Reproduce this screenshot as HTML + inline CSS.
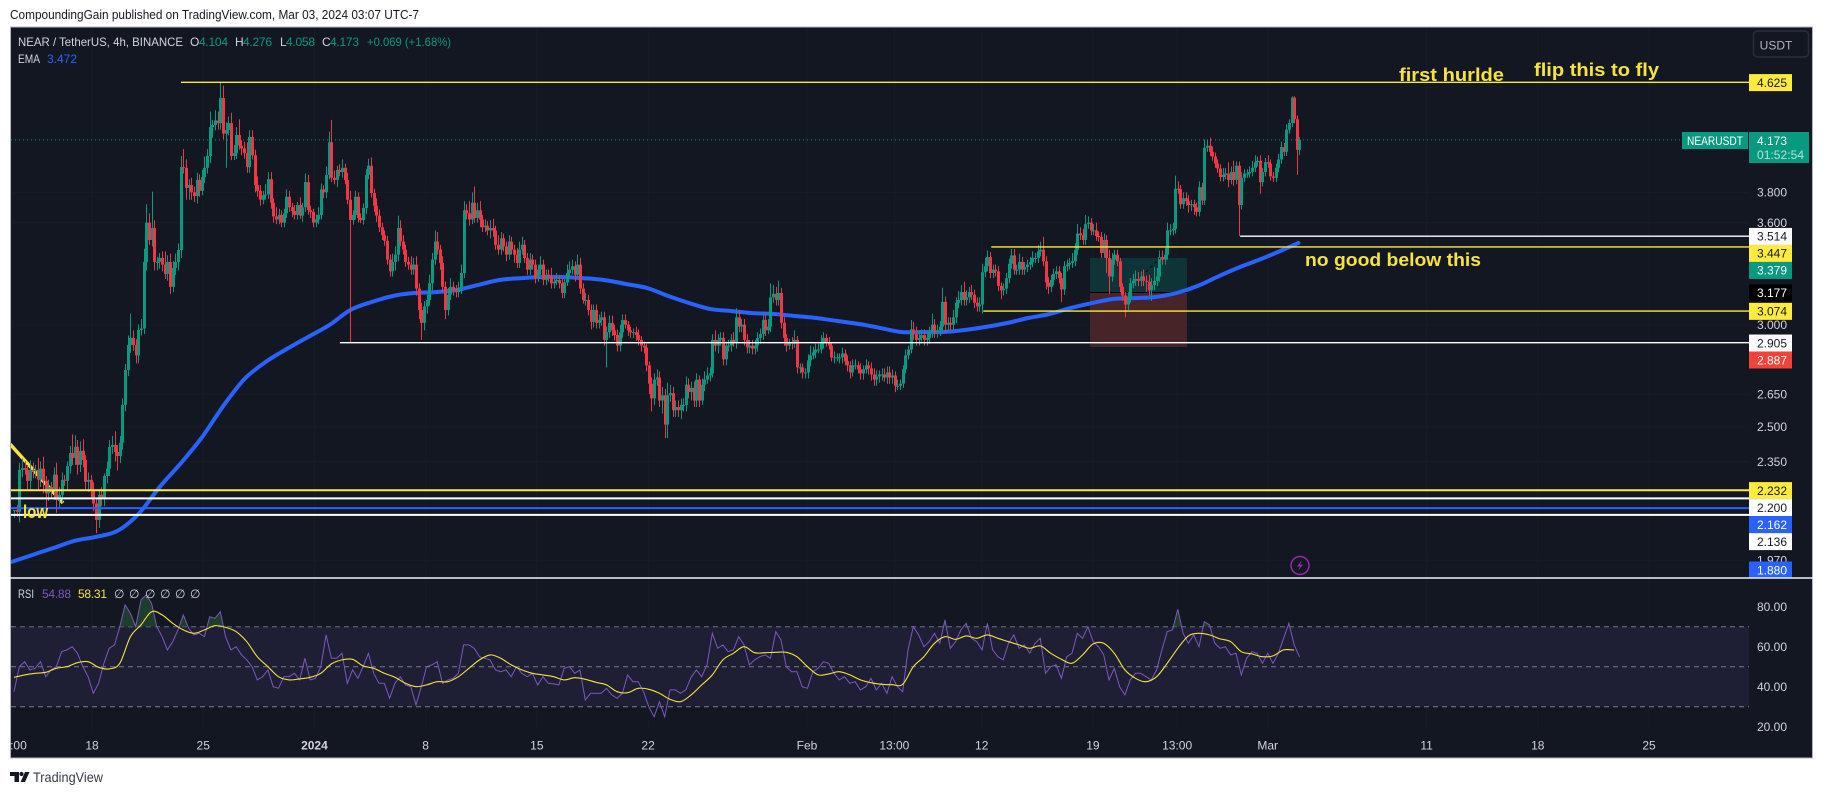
<!DOCTYPE html>
<html lang="en">
<head>
<meta charset="utf-8">
<title>NEAR / TetherUS 4h chart</title>
<style>
html,body{margin:0;padding:0;background:#fff;width:1823px;height:794px;overflow:hidden}
svg{display:block;font-family:"Liberation Sans",sans-serif}
.axis{fill:#d1d4dc;font-size:12px}
.leg{fill:#d1d4dc;font-size:12px}
.teal{fill:#089981;font-size:12px}
.note{fill:#f7e33b;font-size:18px;font-weight:bold}
</style>
</head>
<body>
<svg id="chart" xmlns="http://www.w3.org/2000/svg" width="1823" height="794" viewBox="0 0 1823 794">
  <defs>
    <clipPath id="pane-clip"><rect x="11" y="28" width="1738" height="550"/></clipPath>
    <clipPath id="rsi-clip"><rect x="11" y="579" width="1738" height="150"/></clipPath>
    <clipPath id="ob-clip"><rect x="11" y="579" width="1738" height="47.7"/></clipPath>
    <clipPath id="time-clip"><rect x="11" y="730" width="1800" height="28"/></clipPath>
  </defs>

  <text x="10" y="19" font-size="12.5" fill="#131722" textLength="409" lengthAdjust="spacingAndGlyphs">CompoundingGain published on TradingView.com, Mar 03, 2024 03:07 UTC-7</text>

  <rect x="10.5" y="27" width="1802" height="731" fill="#131722" stroke="#b2b5be" stroke-width="1"/>

  <g id="grid"></g>
  <g id="pane" clip-path="url(#pane-clip)">
    <line x1="10" y1="444" x2="63" y2="503" stroke="#f7e33b" stroke-width="3.5"/>
    <rect x="1090" y="258" width="97" height="34" fill="#0f3438"/>
    <rect x="1090" y="292" width="97" height="55" fill="#472428"/>
    <line x1="1090" y1="292.5" x2="1187" y2="292.5" stroke="#000" stroke-width="1"/>
    <g id="ema-layer"></g>
    <g id="candles"></g>
    <line x1="1146" y1="272" x2="1160" y2="258" stroke="#0a0c12" stroke-width="1" stroke-dasharray="3 3"/>
    <g id="hlines"></g>
    <line id="last-price-line" x1="11" x2="1682" stroke="#089981" stroke-width="1" stroke-dasharray="1 3"/>
    <text class="note" x="23" y="518" font-size="17" textLength="25" lengthAdjust="spacingAndGlyphs">low</text>
  </g>

  <text class="note" x="1399" y="81" textLength="105" lengthAdjust="spacingAndGlyphs">first hurlde</text>
  <text class="note" x="1534" y="76" textLength="125" lengthAdjust="spacingAndGlyphs">flip this to fly</text>
  <text class="note" x="1305" y="266" textLength="176" lengthAdjust="spacingAndGlyphs">no good below this</text>

  <g>
    <text class="leg" x="18" y="46" textLength="165" lengthAdjust="spacingAndGlyphs">NEAR / TetherUS, 4h, BINANCE</text>
    <text class="leg" x="190" y="46">O</text>
    <text class="teal" x="199" y="46" textLength="29">4.104</text>
    <text class="leg" x="235" y="46">H</text>
    <text class="teal" x="243" y="46" textLength="29">4.276</text>
    <text class="leg" x="280" y="46">L</text>
    <text class="teal" x="286" y="46" textLength="29">4.058</text>
    <text class="leg" x="322" y="46">C</text>
    <text class="teal" x="330" y="46" textLength="29">4.173</text>
    <text class="teal" x="367" y="46" textLength="84" lengthAdjust="spacingAndGlyphs">+0.069 (+1.68%)</text>
    <text class="leg" x="18" y="63" textLength="22" lengthAdjust="spacingAndGlyphs">EMA</text>
    <text x="47" y="63" font-size="12" fill="#2962ff" textLength="30">3.472</text>
  </g>

  <g>
    <rect x="1753.5" y="31" width="55" height="26" rx="4" fill="none" stroke="#2a2e39" stroke-width="1.5"/>
    <text x="1776" y="49.5" font-size="12" fill="#b2b5be" text-anchor="middle">USDT</text>
  </g>

  <g id="price-axis"></g>
  <g id="price-tags"></g>

  <g>
    <rect x="1682" y="132" width="66" height="17" fill="#089981"/>
    <text x="1715" y="145" font-size="12" fill="#fff" text-anchor="middle" textLength="56" lengthAdjust="spacingAndGlyphs">NEARUSDT</text>
    <rect x="1749" y="132" width="60" height="31" fill="#089981"/>
    <text x="1757" y="145" font-size="12" fill="#fff">4.173</text>
    <text x="1757" y="159" font-size="12" fill="#b5e0d8" textLength="47">01:52:54</text>
  </g>

  <g>
    <circle cx="1300" cy="565.5" r="9" fill="none" stroke="#9c27b0" stroke-width="1.5"/>
    <path d="M1302 560l-5 6.5h3l-2 4.5 5-6.5h-3z" fill="#9c27b0"/>
  </g>

  <line x1="10" y1="578" x2="1813" y2="578" stroke="#f0f3fa" stroke-width="1.5"/>

  <g id="rsi-pane"></g>

  <g>
    <text class="leg" x="18" y="598" textLength="16" lengthAdjust="spacingAndGlyphs">RSI</text>
    <text x="42" y="598" font-size="12" fill="#7e57c2" textLength="29">54.88</text>
    <text x="78" y="598" font-size="12" fill="#f7e33b" textLength="29">58.31</text>
    <text class="leg" x="114" y="598">∅</text>
    <text class="leg" x="129" y="598">∅</text>
    <text class="leg" x="145" y="598">∅</text>
    <text class="leg" x="160" y="598">∅</text>
    <text class="leg" x="175" y="598">∅</text>
    <text class="leg" x="190" y="598">∅</text>
  </g>

  <g id="time-axis" clip-path="url(#time-clip)"></g>

  <g>
    <path d="M10 772h9v10h-4.5v-6H10z" fill="#131722"/>
    <circle cx="21.5" cy="774" r="2.1" fill="#131722"/>
    <path d="M25 772h4.5l-4.5 10h-4.4z" fill="#131722"/>
    <text x="33" y="782" font-size="14" fill="#363a45" textLength="70" lengthAdjust="spacingAndGlyphs">TradingView</text>
  </g>
</svg>

<script>
// One row per chart day (six 4h candles).
const closes = [
2.155,2.148,2.315,2.322,2.315,2.27,
2.315,2.31,2.315,2.275,2.32,2.27,
2.22,2.245,2.234,2.295,2.194,2.214,
2.274,2.27,2.33,2.386,2.365,2.412,
2.336,2.395,2.356,2.266,2.274,2.234,
2.18,2.117,2.214,2.20,2.29,2.32,
2.412,2.42,2.39,2.373,2.43,2.60,
2.767,2.893,2.93,2.893,2.84,2.972,
2.98,3.356,3.60,3.49,3.565,3.356,
3.356,3.38,3.34,3.285,3.356,3.21,
3.32,3.356,3.428,3.975,3.97,3.83,
3.85,3.80,3.775,3.885,3.81,3.905,
3.97,4.055,4.27,4.285,4.32,4.30,
4.497,4.22,4.247,4.30,4.055,4.075,
4.21,4.13,4.11,4.075,3.975,4.195,
4.06,3.85,3.81,3.75,3.78,3.785,
3.89,3.73,3.64,3.62,3.65,3.60,
3.66,3.77,3.70,3.675,3.65,3.715,
3.645,3.70,3.87,3.68,3.67,3.60,
3.62,3.65,3.82,3.80,3.92,4.155,
3.90,3.885,3.955,3.94,3.97,3.885,
3.75,3.617,3.65,3.77,3.63,3.617,
3.695,3.92,3.985,3.795,3.71,3.645,
3.57,3.52,3.485,3.37,3.30,3.356,
3.40,3.565,3.48,3.43,3.356,3.34,
3.31,3.34,3.20,3.08,3.01,3.10,
3.135,3.23,3.37,3.48,3.43,3.35,
3.21,3.08,3.165,3.21,3.19,3.18,
3.20,3.29,3.68,3.66,3.62,3.73,
3.63,3.68,3.62,3.57,3.58,3.55,
3.565,3.55,3.46,3.43,3.50,3.45,
3.40,3.48,3.43,3.40,3.35,3.43,
3.46,3.38,3.31,3.37,3.34,3.26,
3.31,3.34,3.25,3.28,3.27,3.23,
3.24,3.25,3.23,3.175,3.235,3.29,
3.31,3.33,3.28,3.34,3.20,3.135,
3.135,3.08,3.015,3.08,3.01,3.025,
3.04,2.92,2.96,3.01,2.97,2.945,
2.89,2.96,3.025,3.00,2.97,2.96,
2.96,2.945,2.92,2.89,2.88,2.79,
2.70,2.63,2.72,2.73,2.62,2.645,
2.51,2.645,2.655,2.575,2.59,2.575,
2.60,2.60,2.695,2.66,2.68,2.62,
2.72,2.62,2.695,2.72,2.74,2.75,
2.92,2.89,2.92,2.93,2.82,2.89,
2.89,2.92,2.905,3.04,2.99,3.00,
2.92,2.88,2.89,2.875,2.89,2.93,
2.95,3.025,2.97,2.99,3.15,3.17,
3.135,3.175,3.01,2.93,2.89,2.905,
2.90,2.92,2.78,2.78,2.755,2.755,
2.815,2.84,2.855,2.87,2.87,2.905,
2.93,2.905,2.89,2.83,2.83,2.83,
2.83,2.85,2.81,2.79,2.755,2.79,
2.79,2.77,2.75,2.77,2.79,2.775,
2.745,2.72,2.735,2.745,2.745,2.73,
2.755,2.73,2.74,2.69,2.69,2.70,
2.77,2.84,2.87,2.975,2.95,2.92,
2.93,2.945,2.92,2.93,2.96,3.00,
2.96,2.97,2.99,3.125,3.00,3.01,
3.00,3.04,3.12,3.135,3.18,3.135,
3.15,3.18,3.165,3.12,3.10,3.11,
3.295,3.33,3.385,3.29,3.31,3.30,
3.215,3.19,3.20,3.26,3.345,3.395,
3.31,3.31,3.356,3.31,3.325,3.34,
3.355,3.38,3.38,3.42,3.43,3.36,
3.235,3.21,3.25,3.285,3.30,3.26,
3.195,3.33,3.34,3.35,3.36,3.43,
3.53,3.52,3.49,3.59,3.60,3.55,
3.55,3.515,3.51,3.41,3.49,3.38,
3.27,3.37,3.40,3.36,3.21,3.16,
3.11,3.15,3.23,3.245,3.255,3.245,
3.27,3.245,3.24,3.19,3.22,3.245,
3.27,3.385,3.37,3.40,3.55,3.55,
3.56,3.825,3.82,3.72,3.76,3.74,
3.715,3.72,3.70,3.67,3.835,3.745,
4.115,4.13,4.085,4.05,4.00,3.965,
3.905,3.92,3.93,3.885,3.94,3.885,
3.985,3.715,3.90,3.93,3.93,3.94,
3.97,4.01,4.02,3.87,3.94,4.01,
4.00,3.91,3.90,3.97,4.03,4.12,
4.085,4.25,4.30,4.50,4.33,4.10,
4.173];

// Wick lengths in cents above the body top, per candle.
const upperWicks = [
0,2,3,4,3,2, 4,3,2,5,3,5, 2,3,2,3,5,3, 3,2,2,3,8,5, 3,4,5,2,3,2, 3,2,2,3,1,3,
3,4,6,3,3,3, 3,5,13,4,3,3, 5,8,12,6,24,5, 3,3,4,8,4,5, 4,5,4,8,13,6, 4,5,4,5,4,5,
8,5,12,4,8,7, 13,10,6,5,8,6, 6,12,4,5,8,5, 5,4,6,4,3,7, 5,5,3,6,4,3, 3,5,4,3,4,2,
5,3,6,5,3,2, 3,5,4,3,6,8, 17,5,3,4,6,3, 5,6,3,4,3,3, 3,4,5,6,3,5, 4,3,3,3,3,5,
5,8,5,4,3,3, 5,4,5,3,4,3, 3,5,4,7,6,3, 4,3,4,5,3,3, 4,5,6,4,8,7, 11,5,6,3,4,3,
5,6,3,6,4,3, 3,4,3,3,4,5, 5,3,3,4,3,3, 3,5,3,3,3,5, 3,4,3,3,3,5, 5,4,3,6,4,3,
4,3,3,3,3,3, 3,3,3,4,4,3, 3,4,3,3,2,2, 2,3,3,2,2,2, 2,3,3,4,3,4, 3,6,4,3,3,3,
3,3,4,3,3,3, 3,2,3,4,4,3, 3,5,3,3,3,2, 3,3,4,5,4,3, 3,3,3,3,3,3, 3,4,3,4,8,5,
4,7,3,3,2,2, 3,5,2,2,2,2, 3,5,3,3,3,4, 3,2,3,2,3,2, 2,3,2,3,2,3, 3,2,3,2,3,2,
3,3,3,2,3,3, 3,3,3,2,3,2, 2,3,2,5,4,4, 4,3,3,3,3,6, 3,3,3,8,3,3, 3,4,3,5,4,6,
4,3,4,3,3,4, 5,5,4,3,3,3, 3,2,3,3,3,4, 4,3,5,3,3,3, 3,4,3,4,5,8, 3,3,3,3,3,3,
3,3,3,3,5,4, 6,4,4,6,4,3, 4,5,3,3,4,3, 5,4,3,3,2,2, 2,3,3,4,5,4, 3,4,3,4,4,8,
5,4,4,4,5,4, 4,9,5,3,4,4, 4,3,3,3,4,3, 6,4,6,4,3,3, 3,5,4,8,4,8, 3,3,4,3,3,4,
5,5,3,4,3,3, 5,3,3,3,4,4, 3,4,3,1,1,3, 2];

// Wick lengths in cents below the body bottom, per candle.
const lowerWicks = [
3,2,4,3,2,4, 4,3,3,4,3,5, 7,3,3,4,5,3, 3,2,4,3,3,3, 4,3,3,3,4,3, 3,5,3,3,3,3,
3,3,4,6,3,3, 3,3,4,3,4,4, 3,3,5,3,4,5, 5,4,4,3,4,4, 3,4,5,5,4,8, 8,5,4,5,4,3,
4,4,5,8,4,5, 5,4,25,4,3,3, 4,3,5,4,4,4, 3,5,4,4,3,3, 3,4,4,3,3,3, 3,3,3,4,3,3,
2,4,3,3,4,3, 3,3,3,4,4,3, 3,3,5,3,4,3, 3,71,3,3,3,2, 3,4,3,3,4,4, 3,3,3,3,3,3,
5,4,3,3,3,3, 3,3,4,5,9,4, 4,3,4,3,3,4, 3,5,3,3,3,3, 3,3,3,4,4,3, 3,3,5,3,3,3,
5,4,3,3,3,3, 4,3,3,5,3,3, 3,3,3,3,3,3, 2,3,3,3,3,3, 3,2,3,3,3,2, 2,3,4,2,3,2,
3,3,4,3,3,3, 3,3,14,3,3,3, 3,3,3,2,3,3, 3,3,3,3,3,3, 5,6,3,3,3,6, 6,6,3,3,3,3,
4,3,3,3,4,3, 3,3,2,3,2,3, 2,3,4,3,3,3, 3,3,2,3,3,3, 3,3,3,3,3,3, 3,3,3,2,3,3,
3,3,3,4,3,2, 3,2,3,3,3,3, 3,3,2,3,2,2, 3,2,2,2,3,2, 3,3,2,3,3,2, 2,2,3,3,2,3,
3,3,3,3,3,2, 3,3,3,3,2,2, 2,2,2,2,3,3, 3,2,3,3,3,3, 3,3,3,3,4,3, 3,3,3,3,3,3,
3,3,3,3,3,3, 5,3,3,3,3,3, 3,5,3,3,3,3, 3,3,3,3,3,3, 3,3,3,3,3,3, 4,4,3,3,3,3,
7,3,3,3,3,3, 3,3,3,3,3,3, 3,3,3,3,3,9, 10,3,3,3,3,3, 7,3,3,3,3,3, 3,3,6,3,6,3,
3,3,3,3,3,3, 3,3,3,3,3,3, 5,4,5,3,3,3, 3,3,3,3,3,3, 3,3,3,5,3,4, 3,20,3,3,3,3,
3,3,3,8,3,3, 3,3,3,3,3,3, 3,3,3,3,3,18, 4];

// EMA sampled every 8 candles.
const emaValues = [
1.964,1.989,2.014,2.04,2.054,2.076,2.14,2.246,2.343,2.455,2.595,2.723,2.807,2.873,2.935,2.998,
3.08,3.124,3.158,3.175,3.18,3.192,3.22,3.249,3.26,3.267,3.267,3.26,3.249,3.226,3.203,3.158,
3.118,3.085,3.074,3.063,3.058,3.047,3.036,3.02,3.004,2.983,2.961,2.961,2.961,2.972,2.988,3.009,
3.036,3.058,3.091,3.118,3.141,3.146,3.152,3.175,3.215,3.272,3.326,3.374,3.428,3.472];

// RSI sampled every 2 candles.
const rsiValues = [
37.5,50,52.5,48.4,49.2,52.5,45,48.4,50,57.5,58.4,60,56.7,50,45,36.7,41.7,51.7,59.2,60.9,70,80.9,76.7,70,83.4,85.9,81.7,70,65,58.4,62.5,68.4,75.9,69.2,65.9,66.7,65,75,74.2,77.5,
65,58.4,60,55.9,53.4,50,43.4,45,48.4,40,39.2,45,45,46.7,43.4,54.2,43.4,44.2,50,65.9,54.2,54.2,56.7,41.7,48.4,44.2,50,56.7,46.7,41.7,41.7,34.2,41.7,45,40.9,40,30.9,40,50,50.9,
52.5,41.7,43.4,44.2,46.7,60.9,60.9,59.2,55,54.2,53.4,48.4,47.5,48.4,45,50,46.7,45,46.7,40.9,45,41.7,41.4,40.9,49.2,50,46.7,48.4,33.4,36.7,36.7,36.7,
39.2,35.9,34.2,36.7,45.9,42.5,42.5,37.5,30,25,32.5,25,38.4,38.4,36.7,38.4,44.7,48.4,45,50.9,66.7,59.2,60.9,57.5,58.4,65,60.9,50.9,53.4,55,55.9,54.2,67.5,63.4,50,47.5,47.5,40,39.2,47.5,
49.2,52.5,51.7,46.7,43.4,45,41.7,42.5,38.4,40,44.2,38.4,41.7,36.7,45,40,37.5,58.4,70,65.9,60,62.5,66.7,61.7,73.4,59.2,62.5,68.4,71.7,64.2,62.5,58.4,71.7,58.4,55,53.4,61.7,65.9,59.2,60.9,
56.7,61.7,64.2,46.7,50,50.9,44.2,55,56.7,66.7,64.2,70,62.5,60,55.9,43.4,49.2,40,35.9,43.4,46.7,46.7,45,43.4,48.4,58.4,67.5,68.4,78.7,66.7,61.7,65.9,60,72.5,70.9,61.7,59.2,60,55.9,56.7,
45.9,54.2,57.5,56.7,51.7,56.7,51.7,56.7,64.2,71.7,60.9,54.88];

// RSI moving average sampled every 4 candles.
const rsiMaValues = [
44.7,45.9,46.7,47.2,49.2,50,52,52.5,49.7,48.9,51.7,65,70.9,77.5,75.9,71.7,68.4,66.7,68.4,70.5,69.7,67.5,62.5,55,50,45,43.4,43.9,44.7,46.7,51.4,53.4,53.7,50.4,49.2,46.7,44.7,41.7,40,40.9,
42.5,42.5,45,49.2,53.4,55.9,54.2,50.9,48.4,46.7,45.9,45,43.4,44.5,43.7,42.2,40.9,37.5,37,39.2,38.7,36.7,33.7,32.5,35.9,40.9,45.9,53.4,56.7,60,57,57,57.2,57.2,55,50,45.9,46.4,47.5,45.9,
43.4,42,41.2,41,41.2,50,55,61.7,65,63.7,65.4,64.2,65.9,64.2,62.5,60.9,59.2,60.4,56.7,53.7,51.7,55.9,61.4,61.7,56.7,48.4,44.2,42.5,45,51.7,59.2,65.4,66.7,65.9,63.9,62.5,57.5,56.4,55,55.4,58.4,58.31];

const priceTickValues = [3.8,3.6,3.0,2.65,2.5,2.35,1.97];
const rsiTickValues = [80,60,40,20];
const rsiGuideValues = [70,50,30];

const timeTickLabels = ['13:00','18','25','2024','8','15','22','Feb','13:00','12','19','13:00','Mar','11','18','25'];
const timeTickDays = [-5.05,0,7,14,21,28,35,45,50.5,56,63,68.3,74,84,91,98];

// Horizontal drawings: price, first candle of the line, and kind.
const lineLevels = [4.625,3.514,3.447,3.074,2.905,2.232,2.2,2.162,2.136];
const lineStartCandles = [64,464,370,367,124,0,0,0,0];
const lineKinds = ['yellow','white','yellow','yellow','white','yellow-wide','white-wide','blue-wide','white-wide'];

// Price scale tags.
const tagValues = [4.625,3.514,3.447,3.379,3.177,3.074,2.905,2.887,2.232,2.2,2.162,2.136,1.88];
const tagKinds = ['yellow','white','yellow','teal','black','yellow','white','red','yellow','white','blue','white','blue'];

const lastPrice = closes[closes.length - 1];

const SVG_NS = 'http://www.w3.org/2000/svg';
const KIND_FILL = {yellow:'#ffeb3b',white:'#ffffff',teal:'#089981',black:'#000000',red:'#f44336',blue:'#2962ff'};
const KIND_INK = {yellow:'#131722',white:'#131722',teal:'#ffffff',black:'#ffffff',red:'#ffffff',blue:'#ffffff'};
const LINE_STYLE = {
  'yellow':['#ffeb3b',1.4],'white':['#ffffff',1.4],
  'yellow-wide':['#ffeb3b',2],'white-wide':['#ffffff',2],'blue-wide':['#2962ff',2]
};

function xCandle(i){ return 14 + 2.645 * i; }
function xEma(i){ return 11.5 + 2.648 * i; }
function xLine(i){ return 11.5 + 2.648 * i; }
function xDay(d){ return 92 + 15.888 * d; }
function yPrice(p){ return 82.3 + (Math.log(4.625) - Math.log(p)) * 560; }
function yRsi(v){ return 606.7 + (80 - v) * 2; }
function make(tag, attrs){
  const el = document.createElementNS(SVG_NS, tag);
  for (const k in attrs) el.setAttribute(k, attrs[k]);
  return el;
}
// Smooth curve through the points (Catmull-Rom converted to cubic beziers).
function smoothPath(pts){
  let d = 'M' + pts[0][0].toFixed(1) + ' ' + pts[0][1].toFixed(1);
  for (let i = 0; i < pts.length - 1; i++){
    const p0 = pts[Math.max(0, i - 1)], p1 = pts[i], p2 = pts[i + 1], p3 = pts[Math.min(pts.length - 1, i + 2)];
    const c1x = p1[0] + (p2[0] - p0[0]) / 6, c1y = p1[1] + (p2[1] - p0[1]) / 6;
    const c2x = p2[0] - (p3[0] - p1[0]) / 6, c2y = p2[1] - (p3[1] - p1[1]) / 6;
    d += 'C' + c1x.toFixed(1) + ' ' + c1y.toFixed(1) + ' ' + c2x.toFixed(1) + ' ' + c2y.toFixed(1) + ' ' + p2[0].toFixed(1) + ' ' + p2[1].toFixed(1);
  }
  return d;
}

// grid
const grid = document.getElementById('grid');
timeTickDays.forEach(function(d){
  const el = make('line',{x1:xDay(d),x2:xDay(d),y1:28,y2:730,stroke:'#181c27','stroke-width':1});
  
  
  grid.appendChild(el);
});
priceTickValues.forEach(function(p){
  const el = make('line',{x1:11,x2:1749,y1:yPrice(p),y2:yPrice(p),stroke:'#181c27','stroke-width':1});
  
  
  grid.appendChild(el);
});

// EMA
const emaPts = emaValues.map(function(v,m){
  return [Math.min(xEma(m * 8), xEma(closes.length - 1)), yPrice(v)];
});
const emaLine = make('path',{d:smoothPath(emaPts),fill:'none',stroke:'#2962ff','stroke-width':4,'stroke-linejoin':'round','stroke-linecap':'round'});


document.getElementById('ema-layer').appendChild(emaLine);

// candles
const candleLayer = document.getElementById('candles');
closes.forEach(function(c,i){
  const o = i === 0 ? c : closes[i - 1];
  const up = c >= o;
  const top = Math.max(o,c), bot = Math.min(o,c);
  const hi = top + (upperWicks[i] || 0) / 100;
  const lo = bot - (lowerWicks[i] || 0) / 100;
  const col = up ? '#089981' : '#f23645';
  const px = Math.round(xCandle(i));
  const wick = make('line',{x1:px + 0.5,x2:px + 0.5,y1:yPrice(hi),y2:yPrice(lo),stroke:col,'stroke-width':1});
  
  
  candleLayer.appendChild(wick);
  const yTop = yPrice(top), yBot = yPrice(bot);
  const body = make('rect',{x:px - 1,y:yTop,width:3,height:Math.max(1,yBot - yTop),fill:col});
  
  
  candleLayer.appendChild(body);
});

// horizontal lines
const hlines = document.getElementById('hlines');
lineLevels.forEach(function(p,i){
  const s = LINE_STYLE[lineKinds[i]];
  const el = make('line',{x1:lineStartCandles[i] === 0 ? 11 : xLine(lineStartCandles[i]),x2:1749,y1:yPrice(p),y2:yPrice(p),stroke:s[0],'stroke-width':s[1]});
  
  
  hlines.appendChild(el);
});
const lastLine = document.getElementById('last-price-line');
lastLine.setAttribute('y1', yPrice(lastPrice));
lastLine.setAttribute('y2', yPrice(lastPrice));

// price axis labels
const priceAxis = document.getElementById('price-axis');
priceTickValues.forEach(function(p){
  const el = make('text',{class:'axis',x:1757,y:yPrice(p) + 4.3});
  
  
  el.textContent = p.toFixed(3);
  priceAxis.appendChild(el);
});
rsiTickValues.forEach(function(v){
  const el = make('text',{class:'axis',x:1757,y:yRsi(v) + 4.3});
  
  
  el.textContent = v.toFixed(2);
  priceAxis.appendChild(el);
});

// price tags, stacked so they do not overlap and kept inside the pane
const tagLayer = document.getElementById('price-tags');
let prevCenter = -Infinity;
tagValues.forEach(function(p,i){
  let cy = Math.max(yPrice(p) + 0.3, prevCenter + 17);
  cy = Math.min(cy, 570);
  prevCenter = cy;
  const kind = tagKinds[i];
  const r = make('rect',{x:1749,y:cy - 8.5,width:43,height:17,fill:KIND_FILL[kind]});
  
  
  tagLayer.appendChild(r);
  const t = make('text',{x:1757,y:cy + 4.3,'font-size':12,fill:KIND_INK[kind]});
  
  
  t.textContent = p.toFixed(3);
  tagLayer.appendChild(t);
});

// RSI pane
const rsiPane = document.getElementById('rsi-pane');
const band = make('rect',{x:11,y:yRsi(70),width:1738,height:yRsi(30) - yRsi(70),fill:'#1e1e34'});


rsiPane.appendChild(band);
rsiGuideValues.forEach(function(v){
  const el = make('line',{x1:11,x2:1749,y1:yRsi(v),y2:yRsi(v),stroke:'#787b86','stroke-width':1,'stroke-dasharray':'5 4'});
  
  
  rsiPane.appendChild(el);
});
const rsiPts = rsiValues.map(function(v,j){
  return xCandle(j * 2).toFixed(1) + ',' + yRsi(v).toFixed(1);
});
const overbought = make('polygon',{
  points: xCandle(0) + ',' + yRsi(70) + ' ' + rsiPts.join(' ') + ' ' + xCandle((rsiValues.length - 1) * 2) + ',' + yRsi(70),
  fill:'#1f3d2c','clip-path':'url(#ob-clip)'
});


rsiPane.appendChild(overbought);
const rsiLine = make('polyline',{points:rsiPts.join(' '),fill:'none',stroke:'#7e57c2','stroke-width':1,'clip-path':'url(#rsi-clip)'});


rsiPane.appendChild(rsiLine);
const maPts = rsiMaValues.map(function(v,k){
  return [xCandle(k * 4), yRsi(v)];
});
const maLine = make('path',{d:smoothPath(maPts),fill:'none',stroke:'#f7e33b','stroke-width':1.1,'clip-path':'url(#rsi-clip)'});


rsiPane.appendChild(maLine);

// time axis
const timeAxis = document.getElementById('time-axis');
timeTickLabels.forEach(function(label,i){
  const el = make('text',{class:'axis',x:xDay(timeTickDays[i]),y:749.5,'text-anchor':'middle'});
  
  
  if (label === '2024') el.setAttribute('font-weight', 'bold');
  el.textContent = label;
  timeAxis.appendChild(el);
});
</script>
</body>
</html>
